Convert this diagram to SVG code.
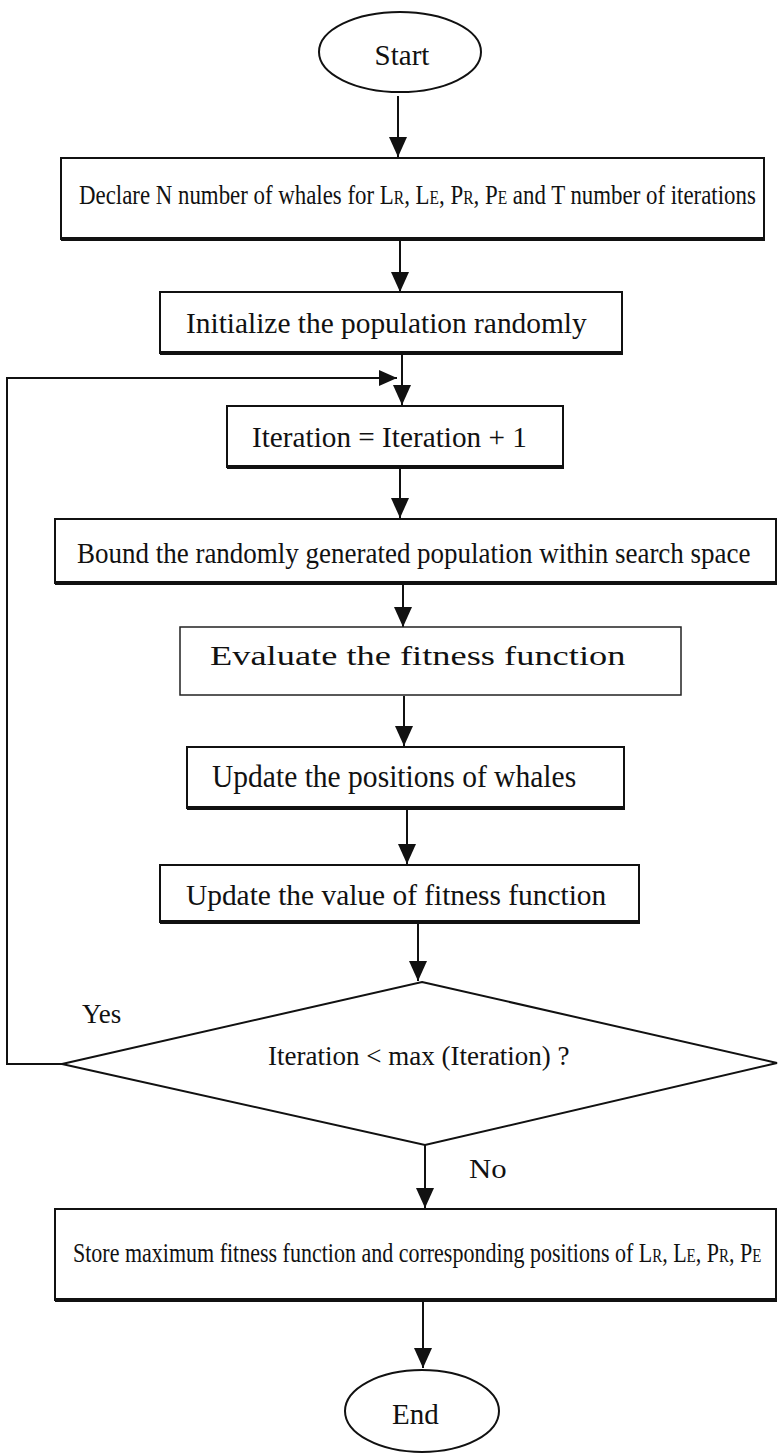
<svg xmlns="http://www.w3.org/2000/svg" width="778" height="1453" viewBox="0 0 778 1453">
<style>
.box{fill:#fff;stroke:#111;stroke-width:2}
.sh{stroke:#111;stroke-width:4}
.t{font-family:"Liberation Serif","Times New Roman",serif;fill:#111}
.s{font-size:19px}
.c{fill:none;stroke:#111;stroke-width:2}
</style>
<defs>
<marker id="ah" markerUnits="userSpaceOnUse" markerWidth="20" markerHeight="22" refX="20" refY="9" orient="auto" viewBox="0 0 20 18">
<path d="M0,0 L20,9 L0,18 Z" fill="#111"/>
</marker>
<marker id="ah2" markerUnits="userSpaceOnUse" markerWidth="18" markerHeight="16" refX="18" refY="8" orient="auto" viewBox="0 0 18 16">
<path d="M0,0 L18,8 L0,16 Z" fill="#111"/>
</marker>
</defs>
<rect width="778" height="1453" fill="#fff"/>
<g id="connectors">
<line class="c" x1="398" y1="96" x2="398" y2="157" marker-end="url(#ah)"/>
<line class="c" x1="400" y1="240" x2="400" y2="292" marker-end="url(#ah)"/>
<line class="c" x1="402" y1="353" x2="402" y2="405" marker-end="url(#ah)"/>
<polyline class="c" points="62,1064 7,1064 7,378 397,378" marker-end="url(#ah2)"/>
<line class="c" x1="400" y1="467" x2="400" y2="518" marker-end="url(#ah)"/>
<line class="c" x1="403" y1="585" x2="403" y2="627" marker-end="url(#ah)"/>
<line class="c" x1="404" y1="696" x2="404" y2="746" marker-end="url(#ah)"/>
<line class="c" x1="407" y1="806" x2="407" y2="864" marker-end="url(#ah)"/>
<line class="c" x1="418" y1="922" x2="418" y2="981" marker-end="url(#ah)"/>
<line class="c" x1="425" y1="1145" x2="425" y2="1208" marker-end="url(#ah)"/>
<line class="c" x1="423" y1="1300" x2="423" y2="1368" marker-end="url(#ah)"/>
</g>
<g id="start">
<ellipse cx="400" cy="52" rx="81" ry="40" class="box"/>
<text class="t" x="402" y="65" font-size="29" text-anchor="middle">Start</text>
</g>
<g id="declare">
<rect class="box" x="61" y="158" width="703" height="81"/>
<line class="sh" x1="61" y1="239" x2="765" y2="239"/>
<text class="t" transform="translate(79,204) scale(0.817,1)" font-size="28">Declare N number of whales for L<tspan class="s">R</tspan>, L<tspan class="s">E</tspan>, P<tspan class="s">R</tspan>, P<tspan class="s">E</tspan> and T number of iterations</text>
</g>
<g id="init">
<rect class="box" x="160" y="292" width="462" height="61"/>
<line class="sh" x1="160" y1="353" x2="623" y2="353"/>
<text class="t" transform="translate(186,333) scale(0.98,1)" font-size="30">Initialize the population randomly</text>
</g>
<g id="iter">
<rect class="box" x="227" y="406" width="336" height="61"/>
<line class="sh" x1="227" y1="467" x2="564" y2="467"/>
<text class="t" transform="translate(252,447) scale(0.975,1)" font-size="30">Iteration = Iteration + 1</text>
</g>
<g id="bound">
<rect class="box" x="55" y="519" width="721" height="64"/>
<line class="sh" x1="55" y1="583" x2="777" y2="583"/>
<text class="t" transform="translate(77,563) scale(0.9,1)" font-size="30">Bound the randomly generated population within search space</text>
</g>
<g id="evaluate">
<rect x="180" y="627" width="501" height="68" fill="#fff" stroke="#222" stroke-width="1.5"/>
<text class="t" transform="translate(210,665) scale(1.3,1)" font-size="28" fill="#222">Evaluate the fitness function</text>
</g>
<g id="update-pos">
<rect class="box" x="187" y="747" width="437" height="61"/>
<line class="sh" x1="187" y1="808" x2="625" y2="808"/>
<text class="t" transform="translate(212,787) scale(0.953,1)" font-size="31">Update the positions of whales</text>
</g>
<g id="update-val">
<rect class="box" x="160" y="865" width="479" height="57"/>
<line class="sh" x1="160" y1="922" x2="640" y2="922"/>
<text class="t" transform="translate(186,905) scale(0.98,1)" font-size="30">Update the value of fitness function</text>
</g>
<g id="decision">
<polygon class="box" points="422,982 777,1063 425,1145 62,1064" stroke-width="2.5"/>
<text class="t" x="268" y="1065" font-size="27">Iteration &lt; max (Iteration) ?</text>
</g>
<g id="labels">
<text class="t" x="82" y="1023" font-size="27">Yes</text>
<text class="t" transform="translate(469,1178) scale(1.1,1)" font-size="28">No</text>
</g>
<g id="store">
<rect class="box" x="55" y="1209" width="721" height="91"/>
<line class="sh" x1="55" y1="1300" x2="777" y2="1300"/>
<text class="t" transform="translate(73,1262) scale(0.786,1)" font-size="28">Store maximum fitness function and corresponding positions of L<tspan class="s">R</tspan>, L<tspan class="s">E</tspan>, P<tspan class="s">R</tspan>, P<tspan class="s">E</tspan></text>
</g>
<g id="end">
<ellipse cx="422" cy="1411" rx="77" ry="41" class="box"/>
<text class="t" x="392" y="1424" font-size="29">End</text>
</g>
</svg>
